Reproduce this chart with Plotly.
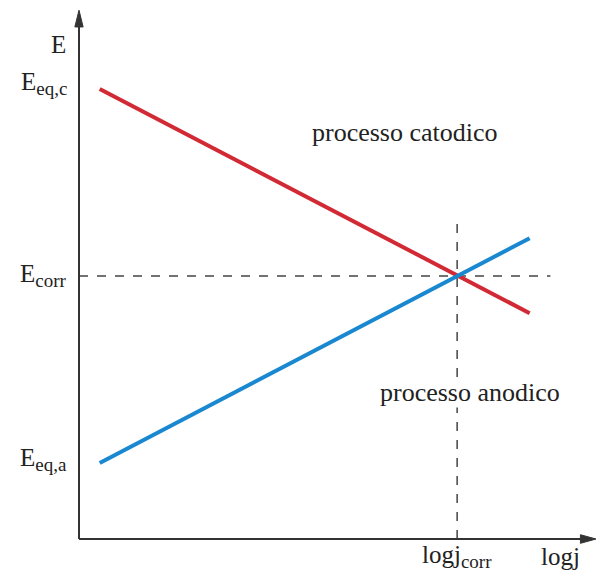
import plotly.graph_objects as go

# Data (arbitrary units on log j / E axes)
cathodic_x = [0.4, 8.7]
cathodic_y = [8.35, 4.19]
anodic_x = [0.4, 8.7]
anodic_y = [1.41, 5.58]
logj_corr = 7.3
E_corr = 4.88
E_eq_c = 8.45
E_eq_a = 1.47
x_max = 9.98   # end of logj axis (arrow tip)
y_max = 9.81   # end of E axis (arrow tip)

SUB = '<sub><span style="font-size:19px">{}</span></sub>'
y_labels = ["E" + SUB.format("eq,c"), "E" + SUB.format("corr"), "E" + SUB.format("eq,a")]
y_label_vals = [E_eq_c, E_corr, E_eq_a]

RED = "#d22a35"
BLUE = "#1a88d0"
AX = "#333333"
FONT = "Liberation Serif"
TXT = "#222222"

fig = go.Figure()
fig.add_trace(go.Scatter(x=cathodic_x, y=cathodic_y, mode="lines",
                         line=dict(color=RED, width=4), showlegend=False))
fig.add_trace(go.Scatter(x=anodic_x, y=anodic_y, mode="lines",
                         line=dict(color=BLUE, width=4), showlegend=False))

# dashed guides
fig.add_shape(type="line", x0=0, x1=9.1, y0=E_corr, y1=E_corr,
              line=dict(color="#444", width=1.5, dash="dash"), layer="below")
fig.add_shape(type="line", x0=logj_corr, x1=logj_corr, y0=0, y1=5.96,
              line=dict(color="#444", width=1.5, dash="dash"), layer="below")

# axes lines
fig.add_shape(type="line", x0=0, x1=0, y0=0, y1=y_max - 0.2,
              line=dict(color=AX, width=2))
fig.add_shape(type="line", x0=0, x1=x_max - 0.2, y0=0, y1=0,
              line=dict(color=AX, width=2))
# arrowheads
fig.add_shape(type="path",
              path=f"M -0.08 {y_max-0.31} L 0.08 {y_max-0.31} L 0 {y_max} Z",
              fillcolor=AX, line=dict(color=AX, width=1))
fig.add_shape(type="path",
              path=f"M {x_max-0.3} -0.08 L {x_max-0.3} 0.08 L {x_max} 0 Z",
              fillcolor=AX, line=dict(color=AX, width=1))

# y labels
fig.add_annotation(x=-0.22, y=9.17, text="E", showarrow=False, xanchor="right",
                   font=dict(family=FONT, size=25, color=TXT))
for t, v in zip(y_labels, y_label_vals):
    fig.add_annotation(x=-0.2, y=v, text=t, showarrow=False, xanchor="right",
                       font=dict(family=FONT, size=25, color=TXT))

# x labels
fig.add_annotation(x=logj_corr, y=-0.33, text="logj" + SUB.format("corr"),
                   showarrow=False, font=dict(family=FONT, size=25, color=TXT))
fig.add_annotation(x=9.3, y=-0.33, text="logj", showarrow=False,
                   font=dict(family=FONT, size=25, color=TXT))

# process labels
fig.add_annotation(x=6.29, y=7.55, text="processo catodico", showarrow=False,
                   font=dict(family=FONT, size=26, color=TXT))
fig.add_annotation(x=7.55, y=2.71, text="processo anodico", showarrow=False,
                   bgcolor="white", borderpad=0,
                   font=dict(family=FONT, size=26, color=TXT))

# whole canvas is the plotting area; data units set so axes origin is at (79, 539) px
fig.update_layout(
    width=597, height=574,
    margin=dict(l=0, r=0, t=0, b=0),
    paper_bgcolor="white", plot_bgcolor="white",
    xaxis=dict(range=[-1.525, 10.0], visible=False, fixedrange=True),
    yaxis=dict(range=[-0.649, 10.0], visible=False, fixedrange=True),
)
fig.write_html("out.html")
